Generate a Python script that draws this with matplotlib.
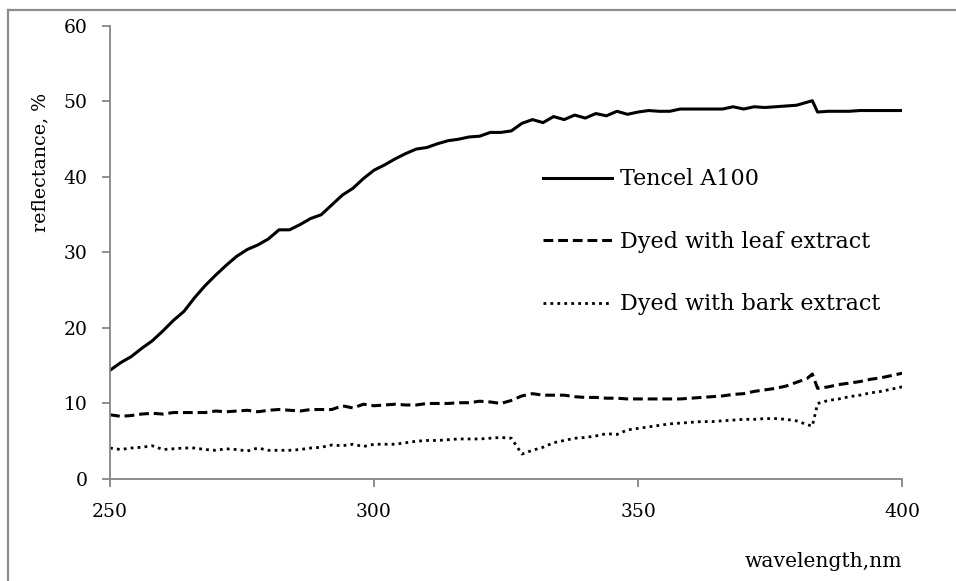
import matplotlib
matplotlib.use("Agg")
import matplotlib.pyplot as plt
from matplotlib.lines import Line2D

# wavelength, nm (2 nm steps, plus 383 nm where the lamp change jump sits)
wavelength = [250, 252, 254, 256, 258, 260, 262, 264, 266, 268,
              270, 272, 274, 276, 278, 280, 282, 284, 286, 288,
              290, 292, 294, 296, 298, 300, 302, 304, 306, 308,
              310, 312, 314, 316, 318, 320, 322, 324, 326, 328,
              330, 332, 334, 336, 338, 340, 342, 344, 346, 348,
              350, 352, 354, 356, 358, 360, 362, 364, 366, 368,
              370, 372, 374, 376, 378, 380, 382, 383, 384, 386,
              388, 390, 392, 394, 396, 398, 400]

tencel = [14.4, 15.4, 16.2, 17.3, 18.3, 19.6, 21.0, 22.2, 24.0, 25.6,
          27.0, 28.3, 29.5, 30.4, 31.0, 31.8, 33.0, 33.0, 33.7, 34.5,
          35.0, 36.3, 37.6, 38.5, 39.8, 40.9, 41.6, 42.4, 43.1, 43.7,
          43.9, 44.4, 44.8, 45.0, 45.3, 45.4, 45.9, 45.9, 46.1, 47.1,
          47.6, 47.2, 48.0, 47.6, 48.2, 47.8, 48.4, 48.1, 48.7, 48.3,
          48.6, 48.8, 48.7, 48.7, 49.0, 49.0, 49.0, 49.0, 49.0, 49.3,
          49.0, 49.3, 49.2, 49.3, 49.4, 49.5, 49.9, 50.1, 48.6, 48.7,
          48.7, 48.7, 48.8, 48.8, 48.8, 48.8, 48.8]

leaf = [8.5, 8.3, 8.4, 8.6, 8.7, 8.6, 8.8, 8.8, 8.8, 8.8,
        9.0, 8.9, 9.0, 9.1, 8.9, 9.1, 9.2, 9.1, 9.0, 9.2,
        9.2, 9.2, 9.7, 9.4, 9.9, 9.7, 9.8, 9.9, 9.8, 9.8,
        10.0, 10.0, 10.0, 10.1, 10.1, 10.3, 10.2, 10.0, 10.4, 11.0,
        11.3, 11.1, 11.1, 11.1, 10.9, 10.8, 10.8, 10.7, 10.7, 10.6,
        10.6, 10.6, 10.6, 10.6, 10.6, 10.7, 10.8, 10.9, 11.0, 11.2,
        11.3, 11.6, 11.8, 12.0, 12.3, 12.8, 13.3, 13.9, 12.0, 12.2,
        12.5, 12.7, 12.9, 13.2, 13.4, 13.7, 14.0]

bark = [4.1, 3.9, 4.1, 4.2, 4.4, 3.9, 4.0, 4.1, 4.1, 3.9,
        3.8, 4.0, 3.9, 3.7, 4.1, 3.8, 3.8, 3.8, 3.9, 4.1,
        4.2, 4.5, 4.4, 4.6, 4.3, 4.6, 4.6, 4.6, 4.8, 5.0,
        5.1, 5.1, 5.2, 5.3, 5.3, 5.3, 5.4, 5.5, 5.4, 3.3,
        3.8, 4.2, 4.8, 5.1, 5.4, 5.5, 5.7, 6.0, 5.9, 6.5,
        6.7, 6.9, 7.1, 7.3, 7.4, 7.5, 7.6, 7.6, 7.7, 7.8,
        7.9, 7.9, 8.0, 8.0, 7.9, 7.7, 7.2, 7.0, 10.0, 10.4,
        10.6, 10.9, 11.1, 11.4, 11.6, 11.9, 12.2]

labels = ["Tencel A100", "Dyed with leaf extract", "Dyed with bark extract"]

plt.rcParams['font.family'] = ['DejaVu Serif']

fig = plt.figure(figsize=(9.56, 5.81), dpi=100)
ax = fig.add_axes([0.1151, 0.1756, 0.8285, 0.7797])

ax.plot(wavelength, tencel, color='black', lw=2.2, label=labels[0])
ax.plot(wavelength, leaf, color='black', lw=2.2, dashes=(3.2, 1.6), label=labels[1])
ax.plot(wavelength, bark, color='black', lw=2.0, dashes=(1, 1.5), label=labels[2])

ax.set_xlim(250, 400)
ax.set_ylim(0, 60)
ax.set_xticks([250, 300, 350, 400])
ax.set_yticks([0, 10, 20, 30, 40, 50, 60])

spine_col = '#868686'
for side in ['top', 'right']:
    ax.spines[side].set_visible(False)
for side in ['left', 'bottom']:
    ax.spines[side].set_color(spine_col)
    ax.spines[side].set_linewidth(1.3)
ax.tick_params(axis='both', direction='out', length=6, width=1.3, color=spine_col,
               labelsize=13.5, labelcolor='black')
ax.tick_params(axis='y', pad=10)
ax.tick_params(axis='x', pad=11)

ax.set_ylabel("reflectance, %", fontsize=13.7)
ax.yaxis.set_label_coords(-0.076, 0.698)
ax.set_xlabel("wavelength,nm", fontsize=14.6, loc='right')
ax.xaxis.set_label_coords(1.0, -0.162)

ax.legend(loc='upper left', bbox_to_anchor=(0.568, 0.710), bbox_transform=fig.transFigure,
          frameon=False, fontsize=16, borderpad=0, borderaxespad=0,
          handlelength=3.1, handletextpad=0.35, labelspacing=1.82)

# grey outer chart frame (left and top edges only visible)
fig.add_artist(Line2D([0.0084, 0.0084], [0.0, 0.9828], transform=fig.transFigure,
                      color='#8c8c8c', lw=1.6))
fig.add_artist(Line2D([0.0084, 1.0], [0.9828, 0.9828], transform=fig.transFigure,
                      color='#8c8c8c', lw=1.6))

fig.savefig("out.png", dpi=100)
